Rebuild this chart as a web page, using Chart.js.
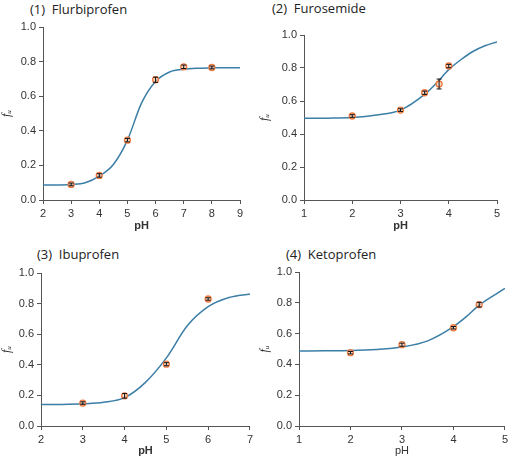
<!DOCTYPE html>
<html>
<head>
<meta charset="utf-8">
<script src="https://cdn.jsdelivr.net/npm/chart.js@4"></script>
<style>
  html, body { margin: 0; padding: 0; background: #fff; }
  body { width: 511px; height: 456px; position: relative; overflow: hidden; }
  canvas { position: absolute; }
  .ttl { position: absolute; font: 13px "Open Sans", "Noto Sans", sans-serif; color: #222; white-space: pre; }
</style>
</head>
<body>
<div class="ttl" style="left:30px;top:0px">(1)  Flurbiprofen</div>
<div class="ttl" style="left:272px;top:-1px">(2)  Furosemide</div>
<div class="ttl" style="left:37px;top:245px">(3)  Ibuprofen</div>
<div class="ttl" style="left:286px;top:245px">(4)  Ketoprofen</div>
<canvas id="c1" style="left:0px;top:15px" width="250" height="219"></canvas>
<canvas id="c2" style="left:258px;top:15px" width="250" height="219"></canvas>
<canvas id="c3" style="left:0px;top:258px" width="256" height="201"></canvas>
<canvas id="c4" style="left:258px;top:258px" width="253" height="201"></canvas>
<script>
// measured points (pH, fu, error)
const p1X = [3, 4, 5, 6, 7, 8];
const p1Y = [0.090, 0.142, 0.346, 0.695, 0.770, 0.766];
const p1Err = [0.008, 0.010, 0.010, 0.015, 0.010, 0.008];
const p2X = [2, 3, 3.5, 3.8, 4];
const p2Y = [0.509, 0.545, 0.650, 0.703, 0.812];
const p2Err = [0.008, 0.008, 0.010, 0.030, 0.010];
const p3X = [3, 4, 5, 6];
const p3Y = [0.150, 0.197, 0.404, 0.830];
const p3Err = [0.008, 0.015, 0.010, 0.008];
const p4X = [2, 3, 4, 4.5];
const p4Y = [0.476, 0.528, 0.638, 0.788];
const p4Err = [0.008, 0.010, 0.008, 0.015];

// fitted curves
const c1X = [2, 2.5, 3, 3.5, 4, 4.5, 5, 5.5, 6, 6.5, 7, 7.5, 8, 8.5, 9];
const c1Y = [0.086, 0.087, 0.090, 0.100, 0.138, 0.205, 0.346, 0.560, 0.685, 0.740, 0.756, 0.762, 0.764, 0.765, 0.765];
const c2X = [1, 1.5, 2, 2.5, 3, 3.5, 3.75, 4, 4.25, 4.5, 4.75, 5];
const c2Y = [0.495, 0.496, 0.500, 0.515, 0.545, 0.640, 0.710, 0.790, 0.850, 0.900, 0.935, 0.958];
const c3X = [2, 2.5, 3, 3.5, 4, 4.5, 5, 5.5, 6, 6.5, 7];
const c3Y = [0.140, 0.141, 0.145, 0.155, 0.185, 0.285, 0.445, 0.655, 0.780, 0.840, 0.863];
const c4X = [1, 1.5, 2, 2.5, 3, 3.5, 4, 4.25, 4.5, 5];
const c4Y = [0.487, 0.488, 0.490, 0.497, 0.513, 0.553, 0.645, 0.710, 0.785, 0.893];

const yTicks = [0, 0.2, 0.4, 0.6, 0.8, 1.0];

const pairs = (xs, ys) => xs.map((x, i) => ({ x: x, y: ys[i] }));

// black error bars on top of the markers
const errorBars = {
  id: 'errorBars',
  afterDatasetsDraw(chart, args, opts) {
    const { ctx, scales: { x, y } } = chart;
    ctx.save();
    ctx.strokeStyle = '#111';
    ctx.lineWidth = 1;
    opts.xs.forEach((v, i) => {
      const px = x.getPixelForValue(v);
      const top = y.getPixelForValue(opts.ys[i] + opts.err[i]);
      const bot = y.getPixelForValue(opts.ys[i] - opts.err[i]);
      ctx.beginPath();
      ctx.moveTo(px, top); ctx.lineTo(px, bot);
      ctx.moveTo(px - 2.5, top); ctx.lineTo(px + 2.5, top);
      ctx.moveTo(px - 2.5, bot); ctx.lineTo(px + 2.5, bot);
      ctx.stroke();
    });
    ctx.restore();
  }
};

function makePanel(id, p) {
  const axisGrid = { drawOnChartArea: false, drawTicks: true, tickLength: 4, color: '#555' };
  const tickFont = { family: 'Liberation Sans, Arial, sans-serif', size: 11 };
  return new Chart(document.getElementById(id), {
    type: 'line',
    data: {
      datasets: [
        {
          data: pairs(p.px, p.py),
          showLine: false,
          pointRadius: 3,
          pointBorderWidth: 1.3,
          pointBorderColor: '#ee7b42',
          pointBackgroundColor: 'rgba(250,200,170,0.7)',
          order: 0
        },
        {
          data: pairs(p.cx, p.cy),
          borderColor: '#3b7ea6',
          borderWidth: 1.5,
          pointRadius: 0,
          cubicInterpolationMode: 'monotone',
          fill: false,
          order: 1
        }
      ]
    },
    options: {
      responsive: false,
      animation: false,
      layout: { padding: { top: p.padTop, right: p.padRight, left: 0, bottom: 0 } },
      plugins: {
        legend: { display: false },
        tooltip: { enabled: false },
        errorBars: { xs: p.px, ys: p.py, err: p.err }
      },
      scales: {
        x: {
          type: 'linear',
          min: p.xmin, max: p.xmax,
          grid: axisGrid,
          border: { color: '#555', width: 1 },
          ticks: { stepSize: 1, font: tickFont, color: '#333', padding: 3 },
          title: { display: true, text: 'pH', color: '#333', padding: { top: 0, bottom: 1 },
                   font: { family: 'Liberation Sans, Arial, sans-serif', size: 11, weight: p.phBold ? 'bold' : 'normal' } },
          afterFit(s) { s.height = p.xHeight; }
        },
        y: {
          min: 0, max: 1,
          grid: axisGrid,
          border: { color: '#555', width: 1 },
          afterBuildTicks(s) { s.ticks = yTicks.map(v => ({ value: v })); },
          ticks: { font: tickFont, color: '#333', padding: 3, callback: v => v.toFixed(1) },
          title: { display: true, text: 'fᵤ', color: '#222', padding: { top: 0, bottom: 0 },
                   font: { family: 'Liberation Serif, serif', size: 12, style: 'italic' } },
          afterFit(s) { s.width = p.yWidth; }
        }
      }
    },
    plugins: [errorBars]
  });
}

makePanel('c1', { px: p1X, py: p1Y, err: p1Err, cx: c1X, cy: c1Y, xmin: 2, xmax: 9,
  yWidth: 43, xHeight: 34, padTop: 12, padRight: 10, phBold: true });
makePanel('c2', { px: p2X, py: p2Y, err: p2Err, cx: c2X, cy: c2Y, xmin: 1, xmax: 5,
  yWidth: 46, xHeight: 34, padTop: 20, padRight: 11, phBold: true });
makePanel('c3', { px: p3X, py: p3Y, err: p3Err, cx: c3X, cy: c3Y, xmin: 2, xmax: 7,
  yWidth: 41, xHeight: 33, padTop: 15, padRight: 2, phBold: true });
makePanel('c4', { px: p4X, py: p4Y, err: p4Err, cx: c4X, cy: c4Y, xmin: 1, xmax: 5,
  yWidth: 41, xHeight: 33, padTop: 14, padRight: 3, phBold: false });
</script>
</body>
</html>
